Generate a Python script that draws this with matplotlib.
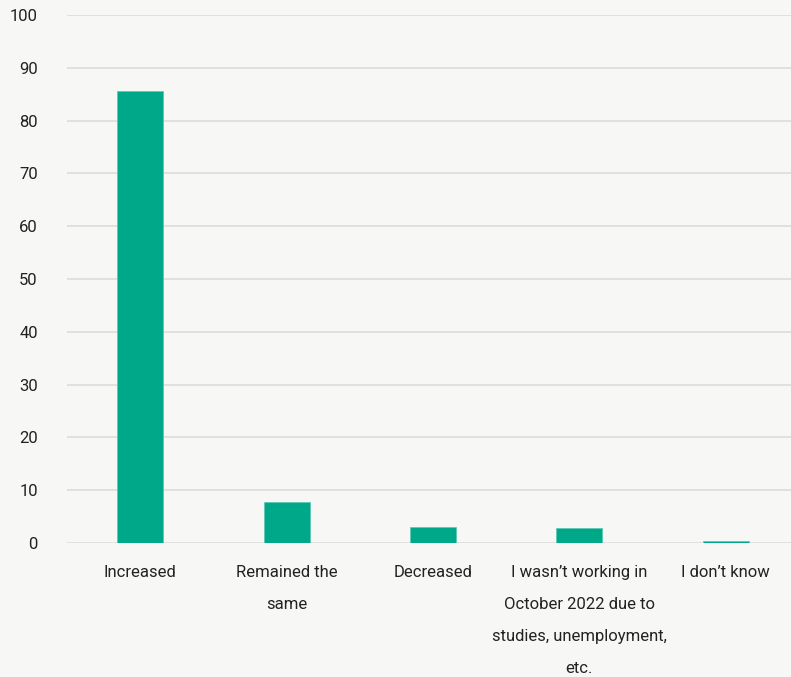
import matplotlib.pyplot as plt

categories = ['Increased', 'Remained the\nsame', 'Decreased',
              'I wasn\u2019t working in\nOctober 2022 due to\nstudies, unemployment,\netc.',
              'I don\u2019t know']
values = [85.7, 7.8, 3.1, 2.9, 0.3]
yticks = [0, 10, 20, 30, 40, 50, 60, 70, 80, 90, 100]

bg = '#f7f7f5'
plt.rcParams['font.family'] = ['Roboto', 'DejaVu Sans']

fig = plt.figure(figsize=(7.91, 6.77), dpi=100, facecolor=bg)
ax = fig.add_axes([67 / 791, 134 / 677, 724 / 791, 528 / 677], facecolor=bg)

x = range(len(categories))
ax.bar(x, values, width=0.314, color='#00a88a', edgecolor='#5fc9b3', linewidth=0.6, zorder=3)

ax.set_ylim(0, 100)
ax.set_xlim(-0.5, 4.445)
ax.set_yticks(yticks)
ax.set_xticks(list(x))
ax.set_xticklabels(categories, linespacing=2.42, fontsize=12, color='#222222')
ax.tick_params(axis='y', length=0, pad=21, labelsize=12, labelcolor='#222222')
ax.tick_params(axis='x', length=0, pad=15.5)
for lbl in ax.get_yticklabels():
    lbl.set_horizontalalignment('right')

ax.grid(axis='y', color='#dcdcdc', linewidth=1.2, zorder=0)
for s in ax.spines.values():
    s.set_visible(False)

fig.savefig('out.png', dpi=100, facecolor=bg)
